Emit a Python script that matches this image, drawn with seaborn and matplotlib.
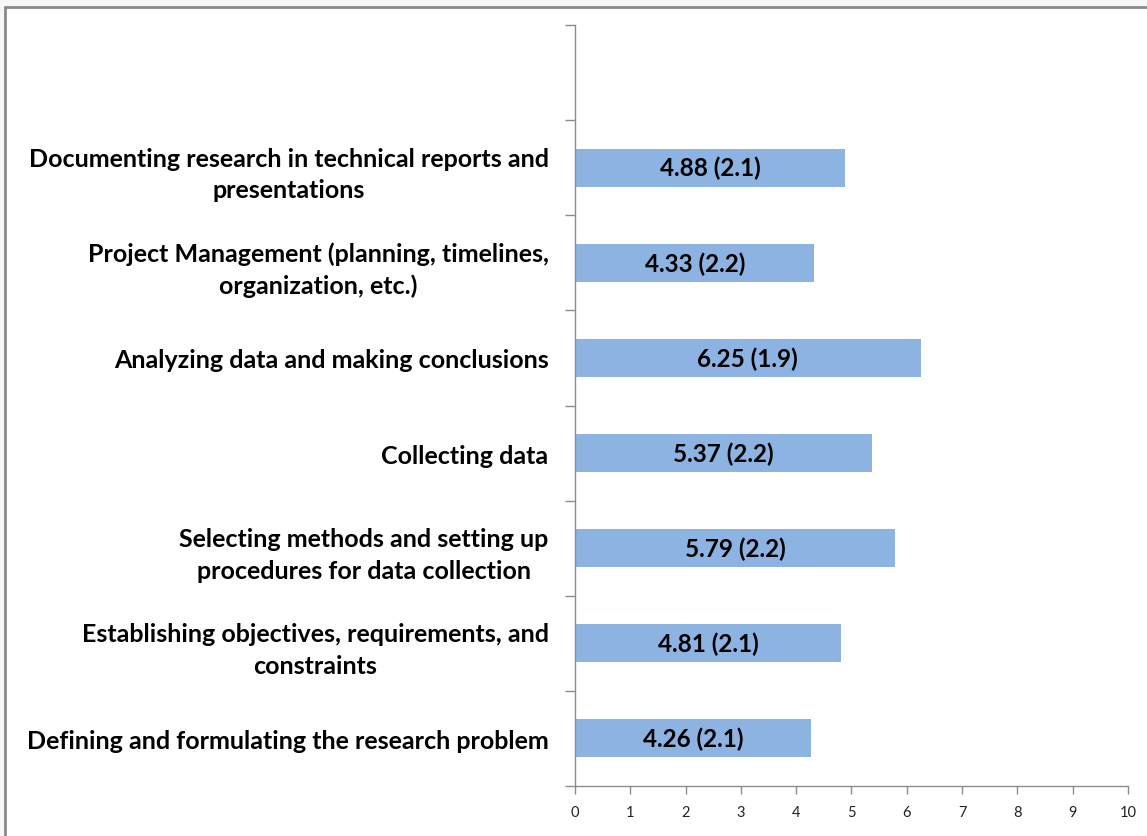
"""
Research skill ratings - horizontal bar chart
"""

import numpy as np
import pandas as pd
import matplotlib
matplotlib.use('Agg')
import matplotlib.pyplot as plt
from matplotlib.lines import Line2D
from matplotlib.patches import Rectangle
import seaborn as sns

# Data (top to bottom)
skills = [
    'Documenting research in technical reports and\npresentations',
    'Project Management (planning, timelines,\norganization, etc.)',
    'Analyzing data and making conclusions',
    'Collecting data',
    'Selecting methods and setting up\nprocedures for data collection',
    'Establishing objectives, requirements, and\nconstraints',
    'Defining and formulating the research problem',
]
means = [4.88, 4.33, 6.25, 5.37, 5.79, 4.81, 4.26]
sds = [2.1, 2.2, 1.9, 2.2, 2.2, 2.1, 2.1]
x_ticks = list(range(0, 11))

BAR_COLOR = '#8DB3E2'
AXIS_COLOR = '#8C8C8C'

sns.set_style('white')
plt.rcParams['font.family'] = ['Lato', 'DejaVu Sans']

df = pd.DataFrame({'skill': skills, 'mean': means, 'sd': sds})
# an empty slot sits above the first bar in the original
order = [' '] + skills

fig = plt.figure(figsize=(11.47, 8.37), dpi=100)
ax = fig.add_axes([575 / 1147, 1 - 787 / 837, (1128 - 575) / 1147, (787 - 26) / 837])

sns.barplot(data=df, x='mean', y='skill', order=order, orient='h',
            color=BAR_COLOR, saturation=1, width=0.4, edgecolor='none', ax=ax)

# value labels centred in each bar
for i, (m, s) in enumerate(zip(means, sds)):
    ax.text(m / 2, i + 1, f'{m:.2f} ({s:.1f})', ha='center', va='center',
            fontsize=17.5, fontweight='bold', color='black')

ax.set_xlim(0, 10)
ax.set_ylim(len(order) - 0.5, -0.5)
ax.set_xticks(x_ticks)
ax.set_xticklabels([str(t) for t in x_ticks], fontsize=10.5, color='#222222')
ax.set_xlabel('')
ax.set_ylabel('')

ax.set_yticks(range(len(order)))
ax.set_yticklabels(order, fontsize=18, fontweight='bold', color='black',
                   multialignment='center', linespacing=1.45)
ax.set_yticks(np.arange(-0.5, len(order), 1.0), minor=True)
ax.tick_params(axis='y', which='major', left=True, length=0, pad=19)
ax.tick_params(axis='y', which='minor', left=True, length=7, width=1,
               color=AXIS_COLOR, direction='out')
ax.tick_params(axis='x', which='major', bottom=True, length=6, width=1,
               color=AXIS_COLOR, direction='out', pad=8)

for side in ['top', 'right']:
    ax.spines[side].set_visible(False)
for side in ['left', 'bottom']:
    ax.spines[side].set_color(AXIS_COLOR)
    ax.spines[side].set_linewidth(1)

# window-like frame around the chart
fig.patches.append(Rectangle((0, 1 - 7 / 837), 1, 7 / 837, transform=fig.transFigure,
                             facecolor='#F6F7F9', edgecolor='none'))
fig.patches.append(Rectangle((0, 0), 5 / 1147, 1, transform=fig.transFigure,
                             facecolor='#F6F7F9', edgecolor='none'))
fig.lines.append(Line2D([5 / 1147, 1], [1 - 8 / 837, 1 - 8 / 837], transform=fig.transFigure,
                        color='#8A8A8A', linewidth=2))
fig.lines.append(Line2D([5 / 1147, 5 / 1147], [0, 1 - 8 / 837], transform=fig.transFigure,
                        color='#8A8A8A', linewidth=2))

fig.savefig('out.png', dpi=100)
